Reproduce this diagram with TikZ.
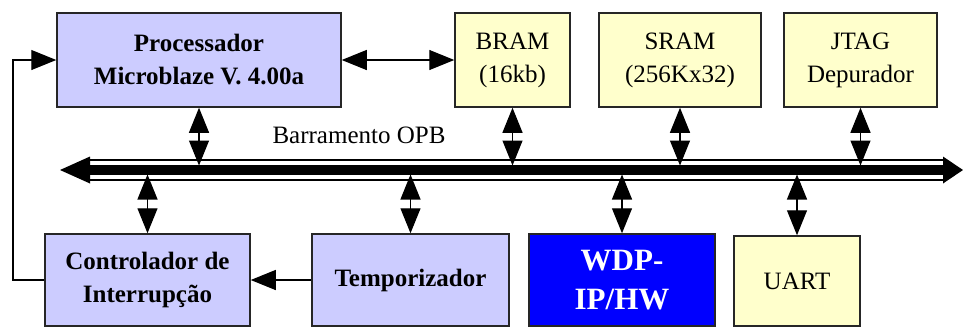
\documentclass[tikz,border=0pt]{standalone}
\usepackage{fontspec}
\setmainfont{Liberation Serif}
\usetikzlibrary{arrows.meta}
\definecolor{lavender}{HTML}{CCCCFF}
\definecolor{paleyellow}{HTML}{FFFFCC}
\definecolor{wdpblue}{HTML}{0000FF}
\begin{document}
\begin{tikzpicture}[x=.5pt,y=-.5pt,>={Triangle[length=12.5pt,width=10pt]},line width=.6pt,
  font=\fontsize{12.5}{16.5}\selectfont,
  blk/.style={draw=black!85,line width=.75pt,align=center,inner sep=0pt},
  cpu/.style={blk,fill=lavender,font=\fontsize{12.5}{16.5}\selectfont\bfseries},
  mem/.style={blk,fill=paleyellow}]
  \useasboundingbox (0,0) rectangle (963,327);
  % top row
  \node[cpu,minimum width=142pt,minimum height=47pt] (proc) at (199,60) {Processador\\Microblaze V. 4.00a};
  \node[mem,minimum width=57.5pt,minimum height=47pt] (bram) at (512.5,60) {BRAM\\(16kb)};
  \node[mem,minimum width=81pt,minimum height=47pt] (sram) at (680,60) {SRAM\\(256Kx32)};
  \node[mem,minimum width=76.5pt,minimum height=47pt] (jtag) at (860.5,60) {JTAG\\Depurador};
  % bottom row
  \node[cpu,minimum width=102.5pt,minimum height=46pt] (ctrl) at (147.5,280) {Controlador de\\Interrupção};
  \node[cpu,minimum width=98.5pt,minimum height=46pt] (temp) at (410.5,280) {Temporizador};
  \node[cpu,fill=wdpblue,text=white,minimum width=93pt,minimum height=46pt,
    font=\fontsize{15.5}{19.5}\selectfont\bfseries] (wdp) at (622,280) {WDP-\\IP/HW};
  \node[mem,minimum width=63pt,minimum height=45pt] (uart) at (797,281) {UART};
  % bus
  \draw[line width=10.65pt] (86,170) -- (947,170);
  \draw[white,line width=9.35pt] (86,170) -- (947,170);
  \draw[line width=4.7pt] (86,170) -- (947,170);
  \fill (60,170) -- (90,156.5) -- (90,183.5) -- cycle;
  \fill (963,170) -- (943,156.5) -- (943,183.5) -- cycle;
  \node (opb) at (359,135) {Barramento OPB};
  \coordinate (busN) at (0,165.5);
  \coordinate (busS) at (0,174.5);
  \foreach \n in {proc,bram,sram,jtag}
    \draw[<->] (\n.south) -- (\n.south |- busN);
  \foreach \n in {ctrl,temp,wdp,uart}
    \draw[<->] (\n.north) -- (\n.north |- busS);
  % other links
  \draw[<->] (proc.east) -- (bram.west);
  \coordinate (fb) at (13,60);
  \draw[->] (ctrl.west) -| (fb) -- (proc.west);
  \draw[->] (temp.west) -- (ctrl.east);
\end{tikzpicture}
\end{document}
